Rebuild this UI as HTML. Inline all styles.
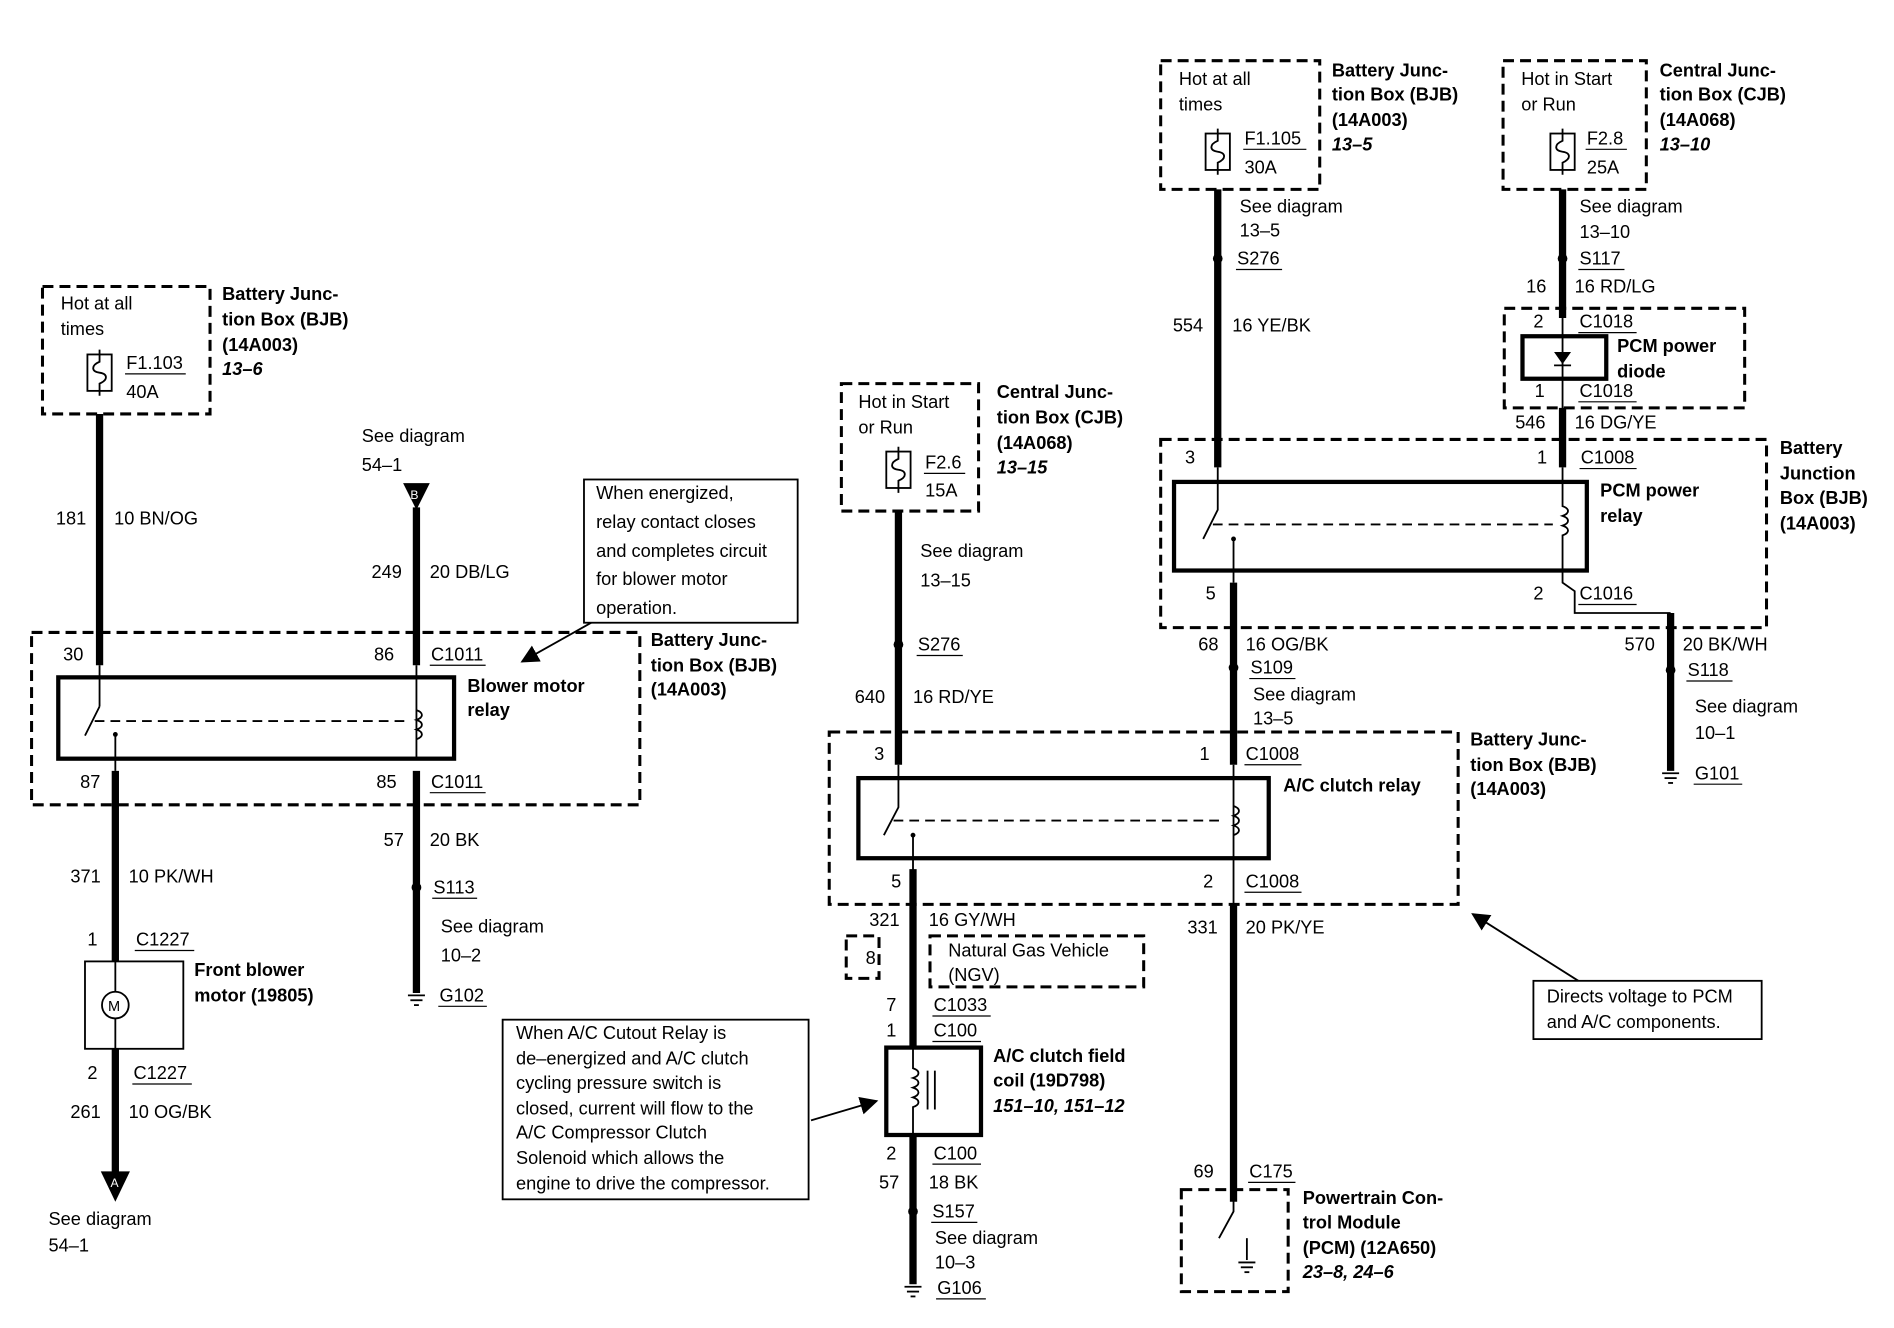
<!DOCTYPE html>
<html><head><meta charset="utf-8"><style>
html,body{margin:0;padding:0;background:#fff;}
svg{display:block;}
text{font-family:"Liberation Sans",sans-serif;font-size:15px;fill:#000;}
.b{font-weight:bold;}
.i{font-weight:bold;font-style:italic;}
.d{fill:none;stroke:#000;stroke-width:2.5;stroke-dasharray:9,5;}
.w{stroke:#000;stroke-width:6;fill:none;}
.t{stroke:#000;stroke-width:1.5;fill:none;}
.r{stroke:#000;stroke-width:3.5;fill:none;}
.u{stroke:#000;stroke-width:1;}
</style></head><body>
<svg width="1894" height="1328" viewBox="0 0 1560 1094" preserveAspectRatio="none" xmlns="http://www.w3.org/2000/svg">
<defs>
<g id="fuse"><rect x="-10" y="0" width="20" height="30" class="t" fill="#fff"/><path d="M0,-4 V6 C-7,9 -7,14 0,15 C7,16 7,21 0,24 V34" class="t"/></g>
<g id="gnd"><line x1="-7" y1="0" x2="7" y2="0" class="t"/><line x1="-5" y1="4" x2="5" y2="4" class="t"/><line x1="-2" y1="8" x2="2" y2="8" class="t"/></g>
<marker id="ar" markerWidth="10" markerHeight="10" refX="9" refY="5" orient="auto"><path d="M0,0 L10,5 L0,10 z"/></marker>
</defs>

<!-- LEFT fuse box -->
<rect x="35" y="236" width="138" height="105" class="d"/>
<text x="50" y="255">Hot at all</text><text x="50" y="276">times</text>
<use href="#fuse" x="82" y="292"/>
<text x="104" y="304">F1.103</text><line x1="103" y1="308" x2="153" y2="308" class="u"/><text x="104" y="328">40A</text>
<text x="183" y="247" class="b">Battery Junc-</text><text x="183" y="268" class="b">tion Box (BJB)</text><text x="183" y="289" class="b">(14A003)</text><text x="183" y="309" class="i">13–6</text>
<line x1="82" y1="341" x2="82" y2="548" class="w"/>
<text x="46" y="432">181</text><text x="94" y="432">10 BN/OG</text>
<text x="298" y="364">See diagram</text><text x="298" y="388">54–1</text>
<path d="M332,398 L354,398 L343,420 z"/><text x="338" y="411" style="font-size:10px;fill:#fff">B</text>
<line x1="343" y1="418" x2="343" y2="548" class="w"/>
<text x="306" y="476">249</text><text x="354" y="476">20 DB/LG</text>
<rect x="481" y="395" width="176" height="118" class="t"/>
<text x="491" y="411">When energized,</text><text x="491" y="435">relay contact closes</text><text x="491" y="459">and completes circuit</text><text x="491" y="482">for blower motor</text><text x="491" y="506">operation.</text>
<line x1="487" y1="513" x2="430" y2="545" class="t" marker-end="url(#ar)"/>
<rect x="26" y="521" width="501" height="142" class="d"/>
<text x="52" y="544">30</text><text x="308" y="544">86</text><text x="355" y="544">C1011</text><line x1="354" y1="548" x2="400" y2="548" class="u"/>
<line x1="82" y1="548" x2="82" y2="582" class="t"/><line x1="343" y1="548" x2="343" y2="625" class="t"/>
<rect x="48" y="558" width="326" height="67" class="r"/>
<path d="M82,582 L70,606 M95,606 V635" class="t"/><circle cx="95" cy="605" r="2"/>
<line x1="78" y1="594" x2="335" y2="594" class="t" stroke-dasharray="8,5"/>
<path d="M343,585 c6,2 6,6 0,8 c6,2 6,6 0,8 c6,2 6,6 0,8" class="t"/>
<text x="385" y="570" class="b">Blower motor</text><text x="385" y="590" class="b">relay</text>
<text x="536" y="532" class="b">Battery Junc-</text><text x="536" y="553" class="b">tion Box (BJB)</text><text x="536" y="573" class="b">(14A003)</text>
<text x="66" y="649">87</text><text x="310" y="649">85</text><text x="355" y="649">C1011</text><line x1="354" y1="653" x2="400" y2="653" class="u"/>
<line x1="95" y1="635" x2="95" y2="792" class="w"/>
<text x="58" y="727">371</text><text x="106" y="727">10 PK/WH</text>
<text x="72" y="779">1</text><text x="112" y="779">C1227</text><line x1="111" y1="783" x2="160" y2="783" class="u"/>
<rect x="70" y="792" width="81" height="72" class="t"/>
<circle cx="95" cy="828" r="11" class="t"/><text x="89" y="833" style="font-size:12px">M</text>
<line x1="95" y1="792" x2="95" y2="817" class="t"/><line x1="95" y1="839" x2="95" y2="864" class="t"/>
<text x="160" y="804" class="b">Front blower</text><text x="160" y="825" class="b">motor (19805)</text>
<text x="72" y="889">2</text><text x="110" y="889">C1227</text><line x1="109" y1="893" x2="158" y2="893" class="u"/>
<line x1="95" y1="864" x2="95" y2="966" class="w"/>
<text x="58" y="921">261</text><text x="106" y="921">10 OG/BK</text>
<path d="M83,965 L107,965 L95,990 z"/><text x="91" y="978" style="font-size:10px;fill:#fff">A</text>
<text x="40" y="1009">See diagram</text><text x="40" y="1031">54–1</text>
<line x1="343" y1="635" x2="343" y2="818" class="w"/>
<text x="316" y="697">57</text><text x="354" y="697">20 BK</text>
<circle cx="343" cy="731" r="4"/><text x="357" y="736">S113</text><line x1="356" y1="740" x2="393" y2="740" class="u"/>
<text x="363" y="768">See diagram</text><text x="363" y="792">10–2</text>
<use href="#gnd" x="343" y="820"/><text x="362" y="825">G102</text><line x1="361" y1="829" x2="401" y2="829" class="u"/>

<!-- MIDDLE -->
<rect x="693" y="316" width="113" height="105" class="d"/>
<text x="707" y="336">Hot in Start</text><text x="707" y="357">or Run</text>
<use href="#fuse" x="740" y="372"/>
<text x="762" y="386">F2.6</text><line x1="761" y1="390" x2="795" y2="390" class="u"/><text x="762" y="409">15A</text>
<text x="821" y="328" class="b">Central Junc-</text><text x="821" y="349" class="b">tion Box (CJB)</text><text x="821" y="370" class="b">(14A068)</text><text x="821" y="390" class="i">13–15</text>
<line x1="740" y1="421" x2="740" y2="630" class="w"/>
<text x="758" y="459">See diagram</text><text x="758" y="483">13–15</text>
<circle cx="740" cy="531" r="4"/><text x="756" y="536">S276</text><line x1="755" y1="540" x2="793" y2="540" class="u"/>
<text x="704" y="579">640</text><text x="752" y="579">16 RD/YE</text>
<rect x="683" y="603" width="518" height="142" class="d"/>
<text x="720" y="626">3</text><text x="988" y="626">1</text><text x="1026" y="626">C1008</text><line x1="1025" y1="630" x2="1072" y2="630" class="u"/>
<line x1="1016" y1="630" x2="1016" y2="745" class="t"/>
<rect x="707" y="641" width="338" height="66" class="r"/>
<path d="M740,630 V665 L728,688 M752,688 V745" class="t"/><circle cx="752" cy="688" r="2"/>
<line x1="736" y1="676" x2="1008" y2="676" class="t" stroke-dasharray="8,5"/>
<path d="M1016,664 c6,2 6,6 0,8 c6,2 6,6 0,8 c6,2 6,6 0,8" class="t"/>
<text x="1057" y="652" class="b">A/C clutch relay</text>
<text x="1211" y="614" class="b">Battery Junc-</text><text x="1211" y="635" class="b">tion Box (BJB)</text><text x="1211" y="655" class="b">(14A003)</text>
<text x="734" y="731">5</text><text x="991" y="731">2</text><text x="1026" y="731">C1008</text><line x1="1025" y1="735" x2="1072" y2="735" class="u"/>
<line x1="752" y1="716" x2="752" y2="863" class="w"/>
<text x="716" y="763">321</text><text x="765" y="763">16 GY/WH</text>
<rect x="697" y="771" width="27" height="35" class="d" stroke-width="1.5"/><text x="713" y="794" style="font-size:15px">8</text>
<rect x="766" y="771" width="176" height="42" class="d" stroke-width="1.5"/>
<text x="781" y="788">Natural Gas Vehicle</text><text x="781" y="808">(NGV)</text>
<text x="730" y="833">7</text><text x="769" y="833">C1033</text><line x1="768" y1="837" x2="816" y2="837" class="u"/>
<text x="730" y="854">1</text><text x="769" y="854">C100</text><line x1="768" y1="858" x2="808" y2="858" class="u"/>
<rect x="730" y="863" width="78" height="72" class="r"/>
<path d="M752,863 V880 c6,2 6,6 0,8 c6,2 6,6 0,8 c6,2 6,6 0,8 c6,2 6,6 0,8 V935" class="t"/>
<line x1="764" y1="882" x2="764" y2="914" class="t"/><line x1="770" y1="882" x2="770" y2="914" class="t"/>
<text x="818" y="875" class="b">A/C clutch field</text><text x="818" y="895" class="b">coil (19D798)</text><text x="818" y="916" class="i">151–10, 151–12</text>
<line x1="752" y1="935" x2="752" y2="1058" class="w"/>
<text x="730" y="955">2</text><text x="769" y="955">C100</text><line x1="768" y1="959" x2="808" y2="959" class="u"/>
<text x="724" y="979">57</text><text x="765" y="979">18 BK</text>
<circle cx="752" cy="998" r="4"/><text x="768" y="1003">S157</text><line x1="767" y1="1007" x2="805" y2="1007" class="u"/>
<text x="770" y="1025">See diagram</text><text x="770" y="1045">10–3</text>
<use href="#gnd" x="752" y="1060"/><text x="772" y="1066">G106</text><line x1="771" y1="1070" x2="812" y2="1070" class="u"/>
<rect x="414" y="840" width="252" height="148" class="t"/>
<text x="425" y="856">When A/C Cutout Relay is</text><text x="425" y="877">de–energized and A/C clutch</text><text x="425" y="897">cycling pressure switch is</text><text x="425" y="918">closed, current will flow to the</text><text x="425" y="938">A/C Compressor Clutch</text><text x="425" y="959">Solenoid which allows the</text><text x="425" y="980">engine to drive the compressor.</text>
<line x1="668" y1="923" x2="722" y2="907" class="t" marker-end="url(#ar)"/>
<line x1="1016" y1="745" x2="1016" y2="990" class="w"/>
<text x="978" y="769">331</text><text x="1026" y="769">20 PK/YE</text>
<text x="983" y="970">69</text><text x="1029" y="970">C175</text><line x1="1028" y1="974" x2="1067" y2="974" class="u"/>
<rect x="973" y="980" width="88" height="84" class="d"/>
<path d="M1016,980 V998 L1004,1020" class="t"/><line x1="1027" y1="1020" x2="1027" y2="1038" class="t"/><use href="#gnd" x="1027" y="1040"/>
<text x="1073" y="992" class="b">Powertrain Con-</text><text x="1073" y="1012" class="b">trol Module</text><text x="1073" y="1033" class="b">(PCM) (12A650)</text><text x="1073" y="1053" class="i">23–8, 24–6</text>
<rect x="1263" y="808" width="188" height="48" class="t"/>
<text x="1274" y="826">Directs voltage to PCM</text><text x="1274" y="847">and A/C components.</text>
<line x1="1300" y1="808" x2="1213" y2="753" class="t" marker-end="url(#ar)"/>

<!-- RIGHT -->
<rect x="956" y="50" width="131" height="106" class="d"/>
<text x="971" y="70">Hot at all</text><text x="971" y="91">times</text>
<use href="#fuse" x="1003" y="110"/>
<text x="1025" y="119">F1.105</text><line x1="1024" y1="123" x2="1076" y2="123" class="u"/><text x="1025" y="143">30A</text>
<text x="1097" y="63" class="b">Battery Junc-</text><text x="1097" y="83" class="b">tion Box (BJB)</text><text x="1097" y="104" class="b">(14A003)</text><text x="1097" y="124" class="i">13–5</text>
<line x1="1003" y1="156" x2="1003" y2="385" class="w"/>
<text x="1021" y="175">See diagram</text><text x="1021" y="195">13–5</text>
<circle cx="1003" cy="213" r="4"/><text x="1019" y="218">S276</text><line x1="1018" y1="222" x2="1056" y2="222" class="u"/>
<text x="966" y="273">554</text><text x="1015" y="273">16 YE/BK</text>
<rect x="1238" y="50" width="118" height="106" class="d"/>
<text x="1253" y="70">Hot in Start</text><text x="1253" y="91">or Run</text>
<use href="#fuse" x="1287" y="110"/>
<text x="1307" y="119">F2.8</text><line x1="1306" y1="123" x2="1340" y2="123" class="u"/><text x="1307" y="143">25A</text>
<text x="1367" y="63" class="b">Central Junc-</text><text x="1367" y="83" class="b">tion Box (CJB)</text><text x="1367" y="104" class="b">(14A068)</text><text x="1367" y="124" class="i">13–10</text>
<line x1="1287" y1="156" x2="1287" y2="262" class="w"/>
<text x="1301" y="175">See diagram</text><text x="1301" y="196">13–10</text>
<circle cx="1287" cy="213" r="4"/><text x="1301" y="218">S117</text><line x1="1300" y1="222" x2="1338" y2="222" class="u"/>
<text x="1257" y="241">16</text><text x="1297" y="241">16 RD/LG</text>
<rect x="1239" y="254" width="198" height="82" class="d"/>
<text x="1263" y="270">2</text><text x="1301" y="270">C1018</text><line x1="1300" y1="274" x2="1348" y2="274" class="u"/>
<rect x="1254" y="277" width="69" height="35" class="r"/>
<line x1="1287" y1="262" x2="1287" y2="340" class="t"/>
<path d="M1280,290 L1294,290 L1287,300 z"/><line x1="1280" y1="301" x2="1294" y2="301" class="t"/>
<text x="1332" y="290" class="b">PCM power</text><text x="1332" y="311" class="b">diode</text>
<text x="1264" y="327">1</text><text x="1301" y="327">C1018</text><line x1="1300" y1="331" x2="1348" y2="331" class="u"/>
<text x="1248" y="353">546</text><text x="1297" y="353">16 DG/YE</text>
<line x1="1287" y1="336" x2="1287" y2="385" class="w"/>
<rect x="956" y="362" width="499" height="155" class="d"/>
<text x="976" y="382">3</text><text x="1266" y="382">1</text><text x="1302" y="382">C1008</text><line x1="1301" y1="386" x2="1348" y2="386" class="u"/>
<rect x="967" y="397" width="340" height="73" class="r"/>
<path d="M1003,385 V420 L991,444 M1016,444 V480" class="t"/><circle cx="1016" cy="444" r="2"/>
<line x1="999" y1="432" x2="1279" y2="432" class="t" stroke-dasharray="8,5"/>
<path d="M1287,385 V417 c6,2 6,6 0,8 c6,2 6,6 0,8 c6,2 6,6 0,8 V480 L1297,487 V505 H1376" class="t"/>
<text x="1318" y="409" class="b">PCM power</text><text x="1318" y="430" class="b">relay</text>
<text x="1466" y="374" class="b">Battery</text><text x="1466" y="395" class="b">Junction</text><text x="1466" y="415" class="b">Box (BJB)</text><text x="1466" y="436" class="b">(14A003)</text>
<text x="993" y="494">5</text><text x="1263" y="494">2</text><text x="1301" y="494">C1016</text><line x1="1300" y1="498" x2="1348" y2="498" class="u"/>
<line x1="1016" y1="480" x2="1016" y2="630" class="w"/>
<text x="987" y="536">68</text><text x="1026" y="536">16 OG/BK</text>
<circle cx="1016" cy="550" r="4"/><text x="1030" y="555">S109</text><line x1="1029" y1="559" x2="1067" y2="559" class="u"/>
<text x="1032" y="577">See diagram</text><text x="1032" y="597">13–5</text>
<line x1="1376" y1="505" x2="1376" y2="635" class="w"/>
<text x="1338" y="536">570</text><text x="1386" y="536">20 BK/WH</text>
<circle cx="1376" cy="552" r="4"/><text x="1390" y="557">S118</text><line x1="1389" y1="561" x2="1427" y2="561" class="u"/>
<text x="1396" y="587">See diagram</text><text x="1396" y="609">10–1</text>
<use href="#gnd" x="1376" y="637"/><text x="1396" y="642">G101</text><line x1="1395" y1="646" x2="1435" y2="646" class="u"/>
</svg>
</body></html>
